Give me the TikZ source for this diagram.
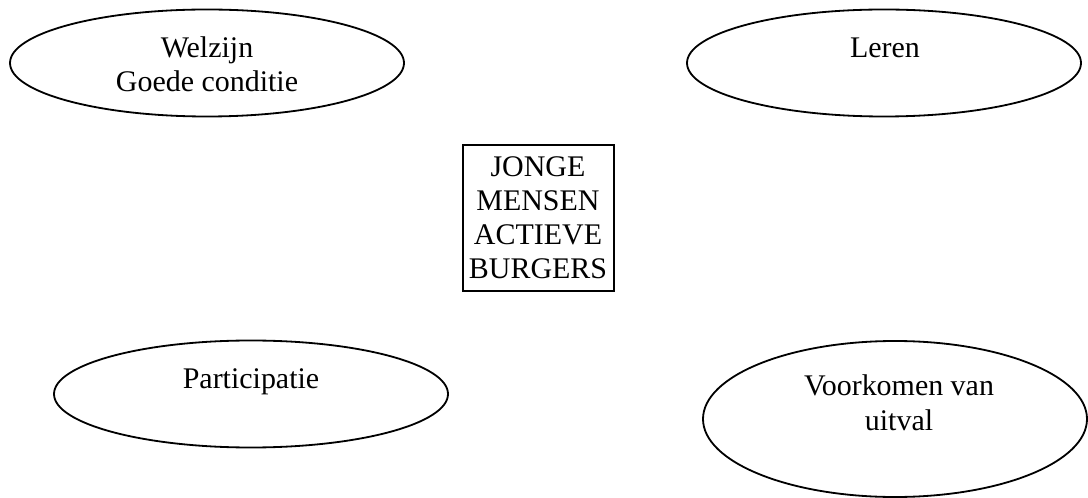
\documentclass[tikz,border=0pt]{standalone}
\usepackage{fontspec}
\setmainfont{Liberation Serif}
\usetikzlibrary{shapes.geometric,calc}
\newdimen\px
\px=0.414pt

\tikzset{
  bubble/.style={draw,ellipse,line width=0.75pt,inner sep=0pt,minimum width=394\px,minimum height=107\px},
  kader/.style={draw,rectangle,line width=0.75pt,inner sep=0pt,minimum width=151\px,minimum height=146\px},
  tekst/.style={align=center,anchor=base,inner sep=0pt,font=\fontsize{12.4}{14.1}\selectfont}
}

\begin{document}
\begin{tikzpicture}[x=0.414pt,y=-0.414pt]
\useasboundingbox (0,0) rectangle (1088,498);
% ellipses
\node[bubble] (welzijn) at (207,63) {};
\node[bubble] (leren) at (884,63) {};
\node[bubble] (participatie) at (251,394) {};
\node[bubble,minimum width=384\px,minimum height=156\px] (uitval) at (895,419) {};
% centre box
\node[kader] (burgers) at (538.5,218) {};
% texts (base = last line)
\node[tekst] (welzijn-t) at (207,92) {Welzijn\\Goede conditie};
\node[tekst] (leren-t) at (885,58) {Leren};
\node[tekst] (participatie-t) at (251,388) {Participatie};
\node[tekst] (uitval-t) at (899,430) {Voorkomen van\\uitval};
\node[tekst] (burgers-t) at (538,279) {JONGE\\MENSEN\\ACTIEVE\\BURGERS};
\end{tikzpicture}
\end{document}
